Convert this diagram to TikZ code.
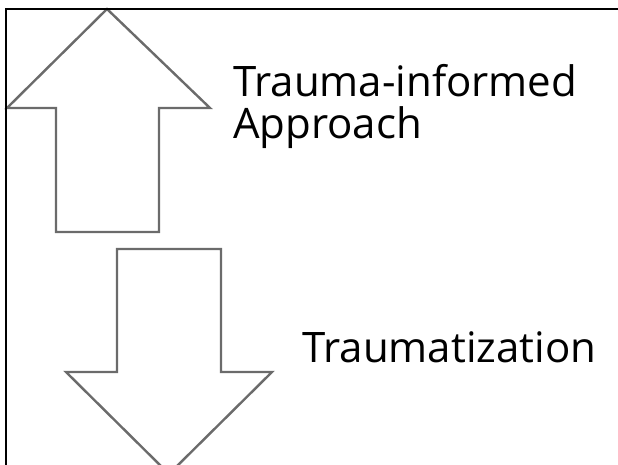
\documentclass[tikz,border=0pt]{standalone}
\usepackage{fontspec}
\setmainfont{Open Sans}
\usepackage{tikz}
\tikzset{
	frameline/.style={draw=black,line width=2pt},
	bigarrow/.style={draw=black!58,line width=2.4pt,fill=white,line join=miter},
	lbl/.style={anchor=base west,inner sep=0pt,font=\fontsize{42}{50}\selectfont}
}

\begin{document}
\begin{tikzpicture}[x=1pt,y=-1pt]
	\useasboundingbox (0,0) rectangle (618,465);
	
	\begin{scope}
		\clip (0,0) rectangle (618,465);
		% up arrow
		\draw[bigarrow] (107,9) -- (210,108) -- (159,108) -- (159,232)
		-- (56,232) -- (56,108) -- (7,108) -- cycle;
		% down arrow
		\draw[bigarrow] (117,249) -- (221,249) -- (221,372) -- (272,372)
		-- (169,474) -- (66,372) -- (117,372) -- cycle;
	\end{scope}
	
	\draw[frameline] (6,466) -- (6,9) -- (619,9);
	
	\node[lbl] (trauinf) at (233,97) {Trauma-informed};
	\node[lbl] (approach) at (233,139) {Approach};
	\node[lbl] (traumat) at (302,362) {Traumatization};
\end{tikzpicture}
\end{document}
